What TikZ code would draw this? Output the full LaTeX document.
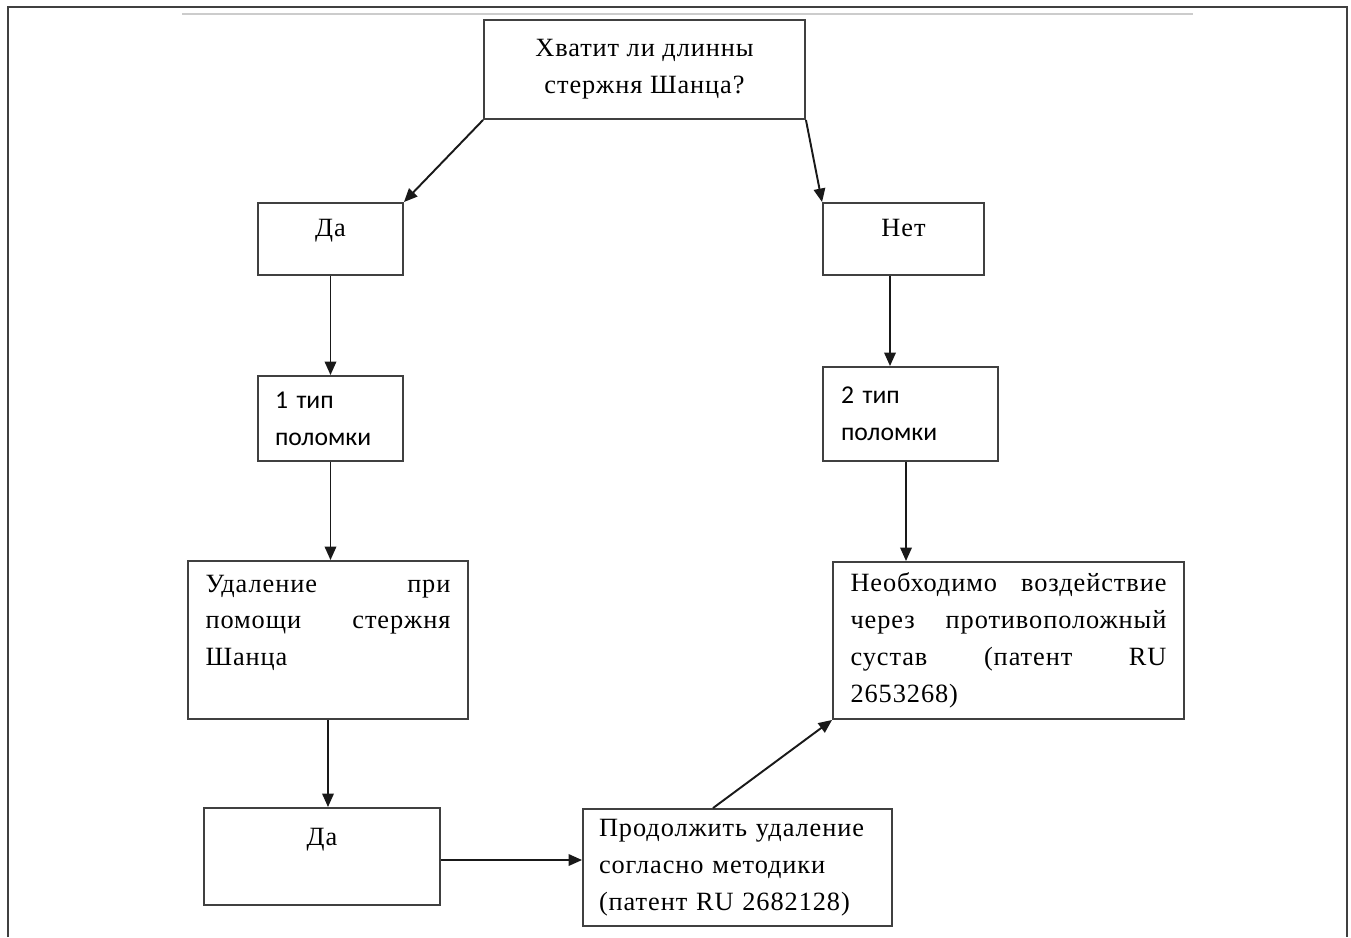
\documentclass[tikz,border=0pt]{standalone}
\usepackage{fontspec}
\setmainfont{Liberation Serif}[LetterSpace=3.5]
\newfontfamily\cfont{Carlito}
\usetikzlibrary{arrows.meta,positioning}

\begin{document}
\begin{tikzpicture}[x=0.02cm, y=-0.02cm,
    box/.style={draw=black!75, line width=1.1pt, inner sep=0pt,
                font=\fontsize{15}{21}\selectfont},
    sbox/.style={box, font=\cfont\fontsize{14.6}{21}\selectfont, align=left},
    jbox/.style={box, align=justify},
    arr/.style={-{Triangle[length=0.27cm,width=0.23cm]}, line width=1.1pt,
                black!90},
  ]
  \useasboundingbox (0,0) rectangle (1351,937);

  %% page frame
  \draw[black!75, line width=1.1pt] (8,937) -- (8,7) -- (1347,7) -- (1347,937);
  \draw[black!20, line width=1.1pt] (182,14) -- (1193,14);

  %% question
  \node[box, minimum width=6.42cm, minimum height=1.98cm, align=center]
    (q) at (644.5,69.5) {Хватит ли длинны\\стержня Шанца?};

  %% left branch
  \node[box, minimum width=2.9cm, text height=0.66cm, text depth=0.78cm]
    (yes1) at (330.5,239) {Да};
  \node[sbox, minimum width=2.9cm, minimum height=1.7cm, text width=2.22cm]
    (type1) at (330.5,418.5) {1 тип\\поломки};
  \node[jbox, minimum width=5.6cm, text width=4.9cm,
        text height=0.62cm, text depth=2.54cm]
    (rem) at (328,640) {Удаление при\linebreak помощи стержня\linebreak Шанца};
  \node[box, minimum width=4.72cm, text height=0.74cm, text depth=1.2cm]
    (yes2) at (322,856.5) {Да};
  \node[box, minimum width=6.18cm, minimum height=2.34cm, text width=5.54cm,
        align=left]
    (cont) at (737.5,867.5) {Продолжить удаление\\согласно методики\\(патент RU 2682128)};

  %% right branch
  \node[box, minimum width=3.22cm, text height=0.66cm, text depth=0.78cm]
    (no1) at (903.5,239) {Нет};
  \node[sbox, minimum width=3.5cm, minimum height=1.88cm, text width=2.78cm]
    (type2) at (910.5,414) {2 тип\\поломки};
  \node[jbox, minimum width=7.02cm, minimum height=3.14cm, text width=6.32cm]
    (need) at (1008.5,640.5) {Необходимо воздействие\linebreak через противоположный\linebreak сустав (патент RU\linebreak 2653268)};

  %% arrows
  \draw[arr] (q.south west) -- (yes1.north east);
  \draw[arr] (q.south east) -- (no1.north west);
  \draw[arr] (yes1.south) -- (type1.north);
  \draw[arr] (type1.south) -- (type1.south |- rem.north);
  \draw[arr] (rem.south) -- (rem.south |- yes2.north);
  \draw[arr] ([yshift=-0.07cm]yes2.east) -- ([yshift=-0.07cm]yes2.east -| cont.west);
  \draw[arr] ([xshift=-0.49cm]cont.north) -- (need.south west);
  \draw[arr] ([xshift=-0.27cm]no1.south) -- ([xshift=-0.27cm]no1.south |- type2.north);
  \draw[arr] ([xshift=-0.09cm]type2.south) -- ([xshift=-0.09cm]type2.south |- need.north);
\end{tikzpicture}
\end{document}
